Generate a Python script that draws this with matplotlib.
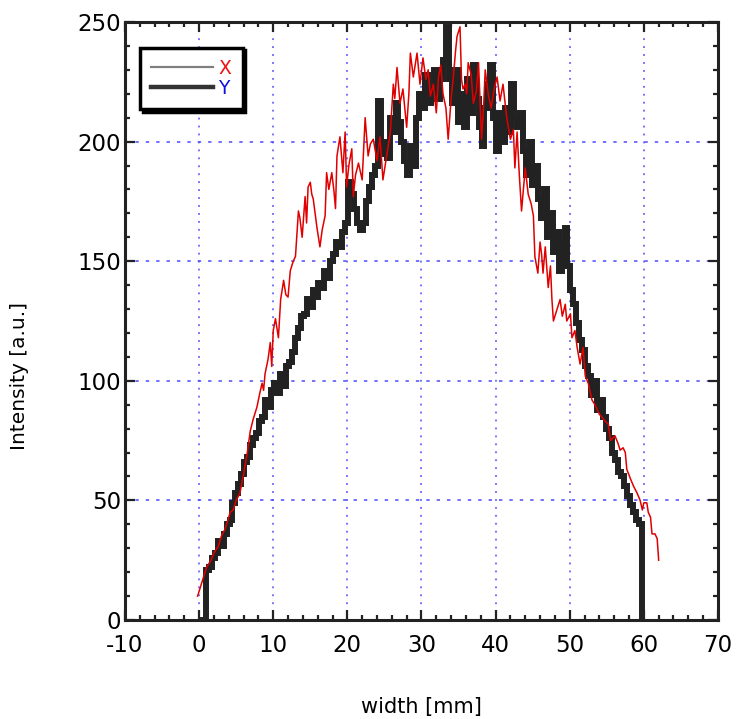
import numpy as np
import matplotlib.pyplot as plt
from matplotlib.lines import Line2D
from matplotlib.ticker import MultipleLocator

plt.rcParams['axes.unicode_minus'] = False

# profile X (thin red)
red_x = [-0.2, 0.5, 1.0, 1.6, 2.0, 2.6, 3.0, 3.5, 3.9, 4.2, 4.6, 5.0, 5.5, 6.0, 6.5, 6.9,
         7.3, 7.8, 8.2, 8.5, 8.7, 8.9, 9.3, 9.6, 9.8, 10.0, 10.3, 10.7, 11.0, 11.4, 11.7,
         12.0, 12.3, 12.7, 13.0, 13.4, 13.6, 13.9, 14.3, 14.5, 14.7, 15.0, 15.2, 15.4,
         15.9, 16.3, 16.6, 17.0, 17.2, 17.5, 17.9, 18.2, 18.4, 18.6, 19.0, 19.4, 19.7,
         19.9, 20.2, 20.6, 20.8, 21.1, 21.5, 22.0, 22.4, 22.8, 23.1, 23.5, 24.0, 24.4,
         24.8, 25.3, 25.8, 26.2, 26.4, 26.7, 27.1, 27.5, 28.0, 28.3, 28.5, 28.9, 29.2,
         29.4, 29.8, 30.2, 30.6, 30.9, 31.2, 31.6, 32.0, 32.3, 32.6, 32.9, 33.3, 33.6,
         34.0, 34.3, 34.6, 34.8, 35.2, 35.4, 35.6, 35.9, 36.1, 36.3, 36.7, 37.0, 37.4,
         37.7, 38.1, 38.4, 38.6, 39.0, 39.4, 39.8, 40.2, 40.6, 41.0, 41.5, 42.0, 42.4,
         42.6, 42.9, 43.2, 43.5, 44.0, 44.4, 44.8, 45.1, 45.3, 45.7, 46.0, 46.2, 46.4,
         46.7, 47.1, 47.4, 47.6, 47.8, 48.3, 48.7, 49.0, 49.4, 49.6, 50.1, 50.3, 50.7,
         51.0, 51.4, 51.8, 52.1, 52.5, 53.0, 53.4, 53.7, 54.0, 54.3, 54.8, 55.2, 55.5,
         56.1, 56.5, 56.8, 57.2, 57.5, 57.7, 58.2, 58.6, 59.1, 59.5, 59.8, 60.0, 60.4,
         60.6, 60.9, 61.1, 61.5, 61.8, 62.0]
red_y = [10, 17, 22, 25, 28, 31, 35, 38, 42, 45, 46, 50, 53, 61, 70, 79,
         84, 89, 95, 99, 96, 103, 109, 116, 106, 121, 126, 118, 134, 142, 136,
         135, 146, 150, 152, 171, 168, 160, 177, 166, 181, 183, 178, 176,
         164, 156, 163, 169, 187, 180, 187, 179, 172, 194, 202, 187, 204,
         181, 190, 197, 177, 186, 191, 184, 210, 194, 199, 201, 192, 202,
         184, 194, 204, 224, 218, 231, 216, 222, 206, 220, 237, 227, 233,
         237, 224, 235, 226, 230, 219, 224, 212, 227, 232, 220, 214, 201,
         218, 227, 238, 244, 248, 226, 222, 224, 220, 233, 228, 216, 221,
         233, 201, 216, 230, 220, 214, 222, 227, 217, 224, 210, 201, 205,
         189, 204, 186, 171, 189, 178, 174, 169, 152, 145, 158, 153, 145,
         156, 139, 148, 134, 125, 130, 134, 127, 132, 125, 128, 118, 121,
         114, 107, 114, 102, 99, 92, 90, 88, 86, 85, 83, 82, 75,
         77, 74, 71, 72, 70, 63, 59, 56, 53, 50, 46, 49, 49,
         45, 43, 36, 36, 34, 25]

# profile Y (thick black), sampled every 0.4 mm from 0.5 to 59.7 mm
black_x = np.linspace(0.5, 59.7, 149)
black_y = [0, 21, 22, 26, 28, 33, 31, 36, 40, 42, 49, 53, 57, 61, 66, 68, 73, 76, 78, 83,
           85, 92, 89, 96, 99, 95, 103, 98, 106, 108, 112, 118, 122, 127, 128, 134, 131,
           138, 135, 141, 139, 146, 143, 150, 153, 158, 156, 162, 166, 183, 178, 172, 166,
           163, 166, 175, 181, 186, 190, 217, 195, 200, 193, 210, 204, 216, 208, 200, 192,
           186, 198, 190, 210, 220, 214, 228, 216, 222, 230, 218, 226, 234, 248, 226, 216,
           230, 208, 220, 206, 226, 212, 232, 218, 206, 198, 214, 224, 232, 210, 196, 212,
           200, 214, 204, 224, 210, 206, 212, 196, 186, 200, 182, 190, 176, 168, 180, 160,
           170, 154, 162, 146, 158, 164, 148, 138, 132, 124, 117, 113, 106, 102, 94, 100,
           88, 92, 85, 80, 76, 70, 67, 62, 60, 56, 52, 48, 45, 42, 40, 0]

grid_blue = '#4a4aff'

fig = plt.figure(figsize=(7.44, 7.19), dpi=100)
ax = fig.add_axes([0.168, 0.1377, 0.797, 0.8317])

ax.plot(black_x, black_y, color='#222222', lw=4.3, drawstyle='steps-post',
        solid_joinstyle='miter', zorder=3)
ax.plot(red_x, red_y, color='#e00000', lw=1.1, zorder=4)

ax.set_xlim(-10, 70)
ax.set_ylim(0, 250)
ax.xaxis.set_major_locator(MultipleLocator(10))
ax.xaxis.set_minor_locator(MultipleLocator(2))
ax.yaxis.set_major_locator(MultipleLocator(50))
ax.yaxis.set_minor_locator(MultipleLocator(10))

# vertical grid dotted, horizontal grid dashed
ax.grid(True, axis='x', color=grid_blue, lw=1.1, linestyle=(0, (1.2, 4.0)))
ax.grid(True, axis='y', color=grid_blue, lw=1.1, linestyle=(0, (2.2, 4.6)))

for s in ax.spines.values():
    s.set_linewidth(2.2)
    s.set_color('#222222')
ax.tick_params(which='both', direction='in', top=True, right=True, color='#222222')
ax.tick_params(which='major', length=7, width=1.6)
ax.tick_params(which='minor', length=3.5, width=1.6)
ax.tick_params(axis='x', pad=10)
ax.tick_params(axis='y', pad=3)
for lab in ax.get_xticklabels() + ax.get_yticklabels():
    lab.set_fontfamily('DejaVu Sans')
    lab.set_fontsize(16.5)

handles = [Line2D([], [], color='#808080', lw=1.6),
           Line2D([], [], color='#333333', lw=3.2)]
leg = ax.legend(handles, ['X', 'Y'], loc='upper left', bbox_to_anchor=(0.025, 0.957),
                borderaxespad=0, fancybox=False, handlelength=3.3, handletextpad=0.3,
                labelspacing=0.05, borderpad=0.6, prop={'family': 'DejaVu Sans', 'size': 13.5},
                shadow={'color': 'black', 'alpha': 1})
leg.get_frame().set_edgecolor('black')
leg.get_frame().set_linewidth(2.5)
leg.get_texts()[0].set_color('#ee1111')
leg.get_texts()[1].set_color('#1111dd')

fig.text(421 / 744, 1 - 707 / 719, 'width [mm]', ha='center', va='center',
         fontsize=15, family='DejaVu Sans')
fig.text(20 / 744, 1 - 376 / 719, 'Intensity [a.u.]', ha='center', va='center',
         rotation=90, fontsize=14.5, family='DejaVu Sans')

fig.savefig('out.png', dpi=100)
